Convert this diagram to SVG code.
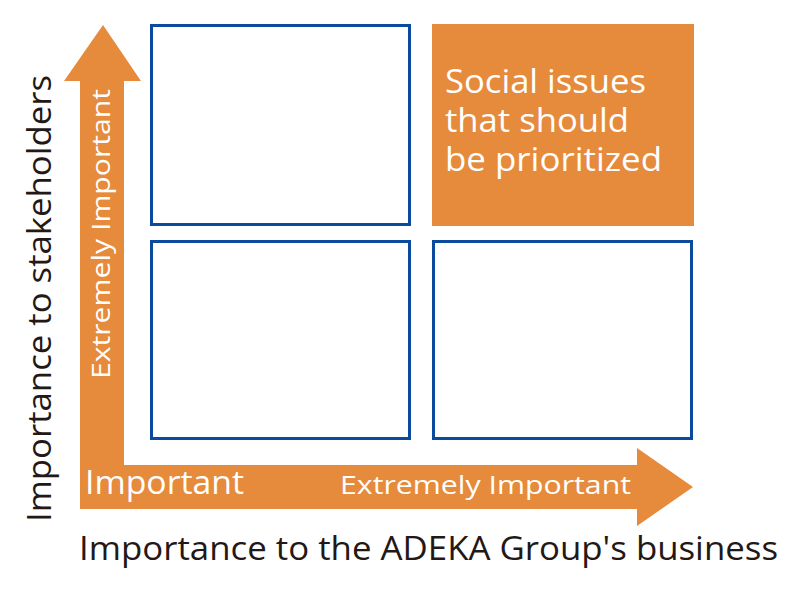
<svg xmlns="http://www.w3.org/2000/svg" width="800" height="600" viewBox="0 0 800 600">
<style>
.box{fill:#ffffff;stroke:#0B4B9E;stroke-width:3}
.hot{fill:#E68A3C}
.w{fill:#ffffff;font-family:"Open Sans","Noto Sans",sans-serif}
.k{fill:#231815;font-family:"Open Sans","Noto Sans",sans-serif}
</style>
<rect width="800" height="600" fill="#ffffff"/>
<g id="connectors">
<path class="hot" d="M103,25 L141,81 L124,81 L124,465 L637,465 L637,448 L693,487 L637,526 L637,509 L80,509 L80,81 L64,81 Z"/>
</g>
<g id="box-top-left"><rect class="box" x="151.5" y="25.5" width="258" height="199"/></g>
<g id="box-top-right">
<rect class="hot" x="432" y="24" width="262" height="202"/>
<text class="w" font-size="32" x="445" y="93" textLength="201" lengthAdjust="spacingAndGlyphs">Social issues</text>
<text class="w" font-size="32" x="445" y="132" textLength="184" lengthAdjust="spacingAndGlyphs">that should</text>
<text class="w" font-size="32" x="445" y="171" textLength="217" lengthAdjust="spacingAndGlyphs">be prioritized</text>
</g>
<g id="box-bottom-left"><rect class="box" x="151.5" y="241.5" width="258" height="197"/></g>
<g id="box-bottom-right"><rect class="box" x="433.5" y="241.5" width="258" height="197"/></g>
<g id="labels">
<text class="w" font-size="26" transform="translate(110,379) rotate(-90)" textLength="290" lengthAdjust="spacingAndGlyphs">Extremely Important</text>
<text class="w" font-size="26" x="340" y="494" textLength="291" lengthAdjust="spacingAndGlyphs">Extremely Important</text>
<text class="w" font-size="32" x="85" y="494" textLength="159" lengthAdjust="spacingAndGlyphs">Important</text>
<text class="k" font-size="33" transform="translate(51,522) rotate(-90)" textLength="447" lengthAdjust="spacingAndGlyphs">Importance to stakeholders</text>
<text class="k" font-size="33" x="79" y="560" textLength="699" lengthAdjust="spacingAndGlyphs">Importance to the ADEKA Group's business</text>
</g>
</svg>
